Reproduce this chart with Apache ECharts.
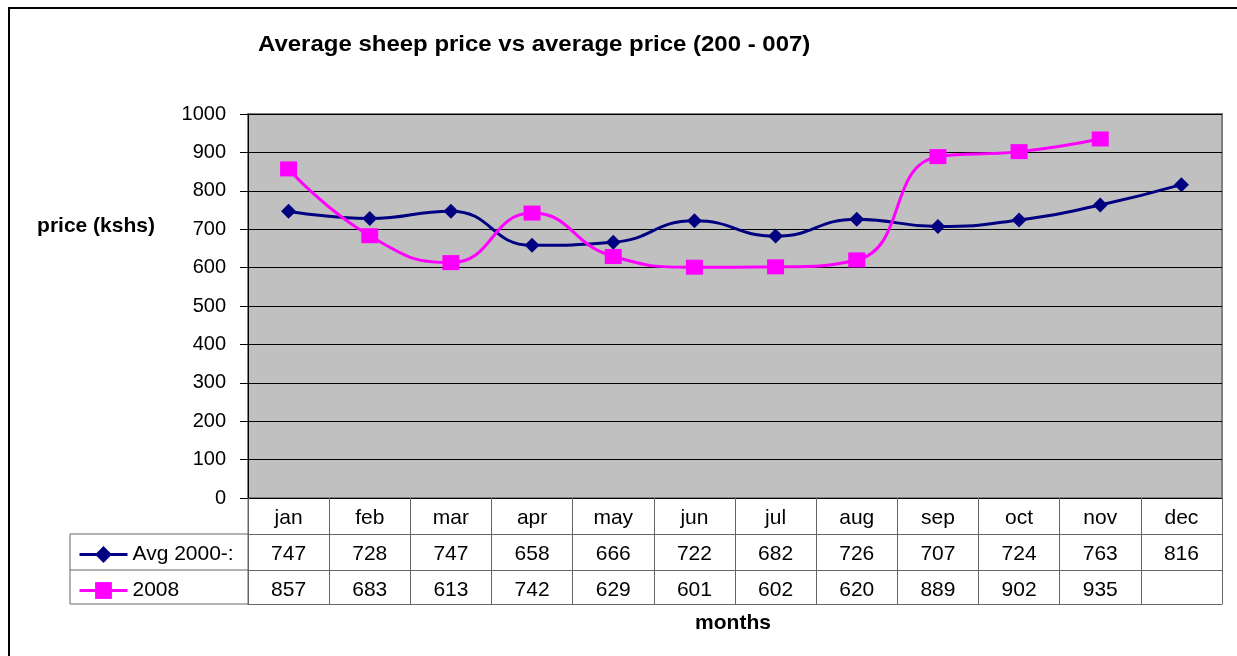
<!DOCTYPE html>
<html>
<head>
<meta charset="utf-8">
<script src="https://cdn.jsdelivr.net/npm/echarts@6/dist/echarts.min.js"></script>
<style>
html,body{margin:0;padding:0;background:#fff;}
#chart{width:1237px;height:656px;}
</style>
</head>
<body>
<div id="chart"></div>
<script>
var months = ['jan','feb','mar','apr','may','jun','jul','aug','sep','oct','nov','dec'];
var avgPrice = [747,728,747,658,666,722,682,726,707,724,763,816];
var price2008 = [857,683,613,742,629,601,602,620,889,902,935,null];
var yTicks = {min:0, max:1000, interval:100};
var seriesNames = ['Avg 2000-:', '2008'];

var FONT = '"Liberation Sans", Arial, sans-serif';
var TABLE = '#666';

function tableAxis(offset, values, tickLen, showLabel) {
  return {
    type: 'category', data: months, gridIndex: 0, position: 'bottom', offset: offset,
    boundaryGap: true,
    axisLine: {show: true, lineStyle: {color: offset === 0 ? '#000' : TABLE, width: 1}},
    axisTick: {show: tickLen > 0, length: tickLen, interval: 0, lineStyle: {color: TABLE, width: 1}},
    axisLabel: {show: showLabel, interval: 0, margin: 10, fontSize: 21, color: '#000', fontFamily: FONT,
      formatter: function (v, i) { if (!values) return v; var x = values[i]; return x == null ? '' : String(x); }},
    splitLine: {show: false}
  };
}

var chart = echarts.init(document.getElementById('chart'), null, {renderer: 'canvas'});
chart.setOption({
  animation: false,
  backgroundColor: '#fff',
  textStyle: {fontFamily: FONT},
  grid: {left: 248, top: 114, right: 15, bottom: 158, show: true, backgroundColor: '#c0c0c0', borderColor: '#808080', borderWidth: 2, containLabel: false},
  legend: {
    data: seriesNames, orient: 'vertical', left: 78, top: 544, itemWidth: 48, itemHeight: 21, itemGap: 15,
    lineStyle: {width: 3}, textStyle: {fontSize: 21, color: '#000', fontFamily: FONT}, padding: 0
  },
  xAxis: [
    tableAxis(0, null, 36, true),
    tableAxis(36, avgPrice, 36, true),
    tableAxis(72, price2008, 34, true),
    tableAxis(106, null, 0, false)
  ],
  yAxis: {
    type: 'value', min: yTicks.min, max: yTicks.max, interval: yTicks.interval,
    axisLine: {show: true, lineStyle: {color: '#000', width: 1}},
    axisTick: {show: true, length: 8, lineStyle: {color: '#000'}},
    axisLabel: {fontSize: 20, color: '#000', margin: 22, fontFamily: FONT, formatter: function (v) { return String(v); }},
    splitLine: {show: true, lineStyle: {color: '#000', width: 1}}
  },
  graphic: [
    {type: 'rect', shape: {x: 9, y: 8, width: 1300, height: 700}, style: {fill: 'none', stroke: '#000', lineWidth: 2}, silent: true},
    {type: 'line', shape: {x1: 70, y1: 534, x2: 248, y2: 534}, style: {stroke: TABLE, lineWidth: 1}},
    {type: 'line', shape: {x1: 70, y1: 570, x2: 248, y2: 570}, style: {stroke: TABLE, lineWidth: 1}},
    {type: 'line', shape: {x1: 70, y1: 604, x2: 248, y2: 604}, style: {stroke: TABLE, lineWidth: 1}},
    {type: 'line', shape: {x1: 70, y1: 534, x2: 70, y2: 604}, style: {stroke: TABLE, lineWidth: 1}},
    {type: 'line', shape: {x1: 248, y1: 498, x2: 248, y2: 604}, style: {stroke: TABLE, lineWidth: 1}},
    {type: 'text', x: 258, y: 45, scaleX: 1.09, style: {text: 'Average sheep price vs average price (200 - 007)', font: 'bold 22px ' + FONT, fill: '#000', textAlign: 'left', textVerticalAlign: 'middle'}},
    {type: 'text', x: 96, y: 226, style: {text: 'price (kshs)', font: 'bold 21px ' + FONT, fill: '#000', textAlign: 'center', textVerticalAlign: 'middle'}},
    {type: 'text', x: 733, y: 623, style: {text: 'months', font: 'bold 21px ' + FONT, fill: '#000', textAlign: 'center', textVerticalAlign: 'middle'}}
  ],
  series: [
    {name: seriesNames[0], type: 'line', xAxisIndex: 0, data: avgPrice, smooth: 0.5,
      symbol: 'diamond', symbolSize: [15, 15], color: '#000080',
      lineStyle: {width: 3, color: '#000080'}, itemStyle: {color: '#000080'}},
    {name: seriesNames[1], type: 'line', xAxisIndex: 0, data: price2008, smooth: 0.5,
      symbol: 'rect', symbolSize: [17, 15], color: '#ff00ff',
      lineStyle: {width: 3, color: '#ff00ff'}, itemStyle: {color: '#ff00ff'}}
  ]
});
</script>
</body>
</html>
